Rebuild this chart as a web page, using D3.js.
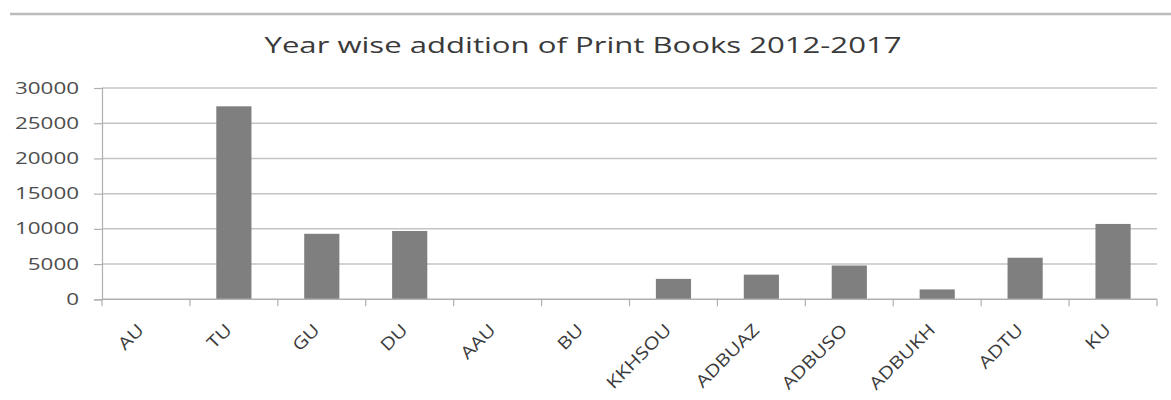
<!DOCTYPE html>
<html>
<head>
<meta charset="utf-8">
<script src="https://cdn.jsdelivr.net/npm/d3@7"></script>
<style>
  html, body { margin: 0; padding: 0; background: #fff; }
  svg { display: block; }
  text { font-family: "Open Sans", "Liberation Sans", sans-serif; }
</style>
</head>
<body>
<svg id="chart" width="1171" height="400"></svg>
<script>
// Institutions along the horizontal axis
const categories = ["AU", "TU", "GU", "DU", "AAU", "BU", "KKHSOU", "ADBUAZ", "ADBUSO", "ADBUKH", "ADTU", "KU"];
// Print books added 2012-2017
const values = [0, 27400, 9300, 9700, 0, 0, 2900, 3500, 4800, 1400, 5900, 10700];
// Value axis ticks
const yTicks = [0, 5000, 10000, 15000, 20000, 25000, 30000];
const titleText = "Year wise addition of Print Books 2012-2017";

const svg = d3.select("#chart");
const W = 1171, H = 400;
const plot = { left: 102, right: 1157, top: 88, bottom: 299.3 };
const stretch = 1.4;   // glyphs are drawn wide

const x = d3.scaleBand()
  .domain(categories)
  .range([plot.left, plot.right])
  .paddingInner(0.6)
  .paddingOuter(0.3);

const y = d3.scaleLinear()
  .domain([0, 30000])
  .range([plot.bottom, plot.top]);

// Rule across the top of the page
svg.append("line")
  .attr("x1", 10).attr("x2", W)
  .attr("y1", 14).attr("y2", 14)
  .attr("stroke", "#bcbcbc").attr("stroke-width", 2.5);

// Title
svg.append("text")
  .attr("x", 583).attr("y", 53)
  .attr("text-anchor", "middle")
  .attr("font-size", 22)
  .attr("fill", "#3a3a3a")
  .attr("textLength", 637)
  .attr("lengthAdjust", "spacingAndGlyphs")
  .text(titleText);

// Horizontal gridlines
svg.append("g")
  .selectAll("line")
  .data(yTicks.filter(d => d > 0))
  .join("line")
  .attr("x1", plot.left).attr("x2", plot.right)
  .attr("y1", d => y(d)).attr("y2", d => y(d))
  .attr("stroke", "#c4c4c4").attr("stroke-width", 1.5);

// Bars
svg.append("g")
  .selectAll("rect")
  .data(categories.map((c, i) => ({ c, v: values[i] })))
  .join("rect")
  .attr("x", d => x(d.c))
  .attr("width", x.bandwidth())
  .attr("y", d => y(d.v))
  .attr("height", d => y(0) - y(d.v))
  .attr("fill", "#7f7f7f");

// Value axis
const yAxis = svg.append("g")
  .attr("transform", `translate(${plot.left},0)`)
  .call(d3.axisLeft(y).tickValues(yTicks).tickSize(8).tickPadding(0).tickFormat(d3.format("d")));
yAxis.select(".domain").attr("stroke", "#b0b0b0").attr("stroke-width", 1.2);
yAxis.selectAll(".tick line").attr("stroke", "#b0b0b0").attr("stroke-width", 1.2);
yAxis.selectAll(".tick text")
  .attr("x", 0)
  .attr("transform", `translate(-23,0) scale(${stretch},1)`)
  .attr("font-size", 16)
  .attr("fill", "#4d4d4d");

// Category axis: ticks at slot boundaries
const step = x.step();
const bounds = d3.range(categories.length + 1).map(i => plot.left + i * step);
const xAxis = svg.append("g");
xAxis.append("line")
  .attr("x1", plot.left).attr("x2", plot.right)
  .attr("y1", plot.bottom).attr("y2", plot.bottom)
  .attr("stroke", "#b0b0b0").attr("stroke-width", 1.5);
xAxis.selectAll("line.tk")
  .data(bounds)
  .join("line")
  .attr("class", "tk")
  .attr("x1", d => d).attr("x2", d => d)
  .attr("y1", plot.bottom).attr("y2", plot.bottom + 7)
  .attr("stroke", "#b0b0b0").attr("stroke-width", 1.2);

xAxis.selectAll("text")
  .data(categories)
  .join("text")
  .attr("text-anchor", "end")
  .attr("transform", d => `translate(${x(d) + x.bandwidth() / 2 - 1},331) rotate(-45) scale(1.22,1)`)
  .attr("font-size", 17)
  .attr("fill", "#3a3a3a")
  .text(d => d);
</script>
</body>
</html>
